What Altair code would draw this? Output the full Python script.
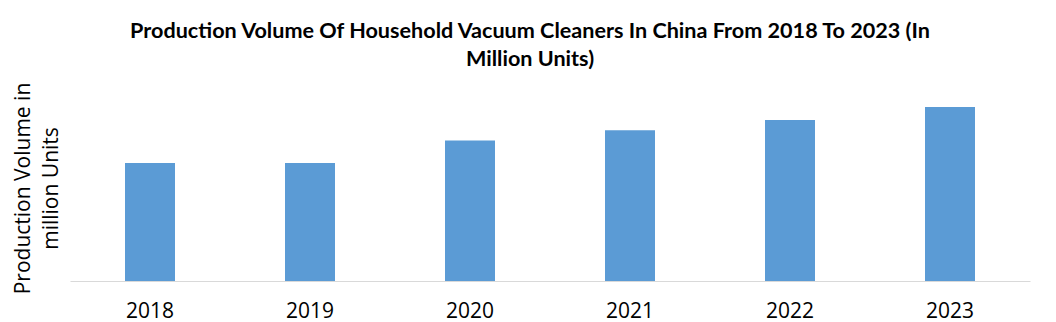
import altair as alt
import pandas as pd

years = ["2018", "2019", "2020", "2021", "2022", "2023"]
volume = [127, 127, 151, 162, 173, 187]

title_lines = ["Production Volume Of Household Vacuum Cleaners In China From 2018 To 2023 (In",
               "Million Units)"]
y_title = ["Production Volume in", "million Units"]

df = pd.DataFrame({"year": years, "volume": volume})

chart = alt.Chart(df).mark_bar(color="#5B9BD5").encode(
    x=alt.X("year:N", sort=years,
            scale=alt.Scale(paddingInner=0.6875, paddingOuter=0.34375),
            axis=alt.Axis(title=None, labelAngle=0, ticks=False, domainColor="#D9D9D9",
                          domainWidth=1, labelFont="Open Sans", labelFontSize=21,
                          labelColor="#000000", labelPadding=19)),
    y=alt.Y("volume:Q", scale=alt.Scale(domain=[0, 200], nice=False),
            axis=alt.Axis(title=y_title, labels=False, ticks=False, domain=False, grid=False,
                          titleFont="Open Sans", titleFontSize=21, titleFontWeight="normal",
                          titleColor="#000000", titleLineHeight=28, titleAngle=270,
                          titleX=-47, titleY=93, titleBaseline="middle", titleAlign="center")),
).properties(
    width=960, height=186,
    title=alt.TitleParams(text=title_lines, font="Lato", fontSize=21.6,
                          fontWeight="bold", color="#000000", lineHeight=28,
                          anchor="middle", dx=-20, dy=34, offset=29, baseline="alphabetic"),
    autosize=alt.AutoSizeParams(type="none"),
    padding={"left": 70, "top": 95, "right": 26, "bottom": 41},
).configure(background="white").configure_view(stroke=None)

chart.save("out.html", embed_options={"renderer": "svg", "actions": False})
